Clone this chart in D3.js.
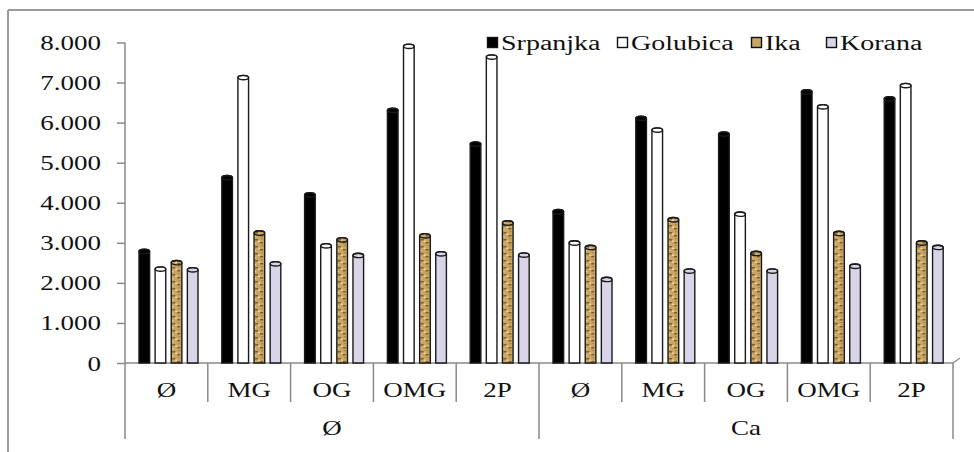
<!DOCTYPE html>
<html><head><meta charset="utf-8">
<script src="https://cdn.jsdelivr.net/npm/d3@7"></script>
<style>html,body{margin:0;padding:0;background:#fff;}svg{display:block;}text{font-family:'Liberation Serif','Times New Roman',serif;}</style>
</head><body>
<svg id="chart" width="974" height="452"></svg>
<script>
const treatments = ["Ø","MG","OG","OMG","2P","Ø","MG","OG","OMG","2P"];
const groups = ["Ø","Ca"];
const seriesNames = ["Srpanjka","Golubica","Ika","Korana"];
const srpanjka = [2840,4680,4250,6360,5520,3830,6160,5770,6820,6650];
const golubica = [2400,7180,2980,7960,7690,3050,5870,3770,6450,6980];
const ika      = [2560,3300,3130,3230,3550,2940,3630,2790,3290,3050];
const korana   = [2380,2530,2740,2780,2750,2140,2350,2350,2470,2940];
const tickValues = [0,1000,2000,3000,4000,5000,6000,7000,8000];
const tickLabels = ["0","1.000","2.000","3.000","4.000","5.000","6.000","7.000","8.000"];

const seriesValues = [srpanjka, golubica, ika, korana];
const svg = d3.select("#chart");
const defs = svg.append("defs");

// Ika grain texture
const pat = defs.append("pattern").attr("id","ikaTex").attr("patternUnits","userSpaceOnUse")
  .attr("width",10).attr("height",7);
pat.append("rect").attr("width",10).attr("height",7).attr("fill","#c9a663");
pat.append("rect").attr("x",1).attr("y",1).attr("width",3).attr("height",1.5).attr("fill","#7d5f2e");
pat.append("rect").attr("x",6).attr("y",4).attr("width",3).attr("height",1.5).attr("fill","#7d5f2e");
pat.append("rect").attr("x",4).attr("y",2.5).attr("width",2).attr("height",1.5).attr("fill","#ead6a2");
pat.append("rect").attr("x",0).attr("y",5).attr("width",2).attr("height",1.2).attr("fill","#ead6a2");
pat.append("rect").attr("x",7).attr("y",0).attr("width",2).attr("height",1.2).attr("fill","#a8864a");

const fills = ["#000000","#ffffff","url(#ikaTex)","#d9d4e8"];
const legendFills = ["#000000","#ffffff","#c9a663","#d9d4e8"];

const x0 = d3.scaleBand().domain(d3.range(treatments.length)).range([125, 953]).padding(0);
const x1 = d3.scaleBand().domain(seriesNames).range([14, 73]).paddingInner(0.34).paddingOuter(0);
const y = d3.scaleLinear().domain([0, 8000]).range([363, 42.5]);

const axisColor = "#8a8a8a";
const font = "'Liberation Serif','Times New Roman',serif";
const SX = 1.35;

// Outer frame
svg.append("line").attr("x1",8).attr("x2",974).attr("y1",10).attr("y2",10).attr("stroke","#9a9a9a").attr("stroke-width",2);
svg.append("line").attr("x1",8).attr("x2",8).attr("y1",10).attr("y2",452).attr("stroke","#9a9a9a").attr("stroke-width",2);

// Y axis
const yAxis = d3.axisLeft(y).tickValues(tickValues).tickSize(8).tickPadding(0)
  .tickFormat((d,i) => tickLabels[i]);
const gy = svg.append("g").attr("transform","translate(125,0)").call(yAxis);
gy.attr("font-family", font);
gy.select(".domain").attr("stroke",axisColor).attr("stroke-width",1.5).attr("d","M0,"+y(8000)+"V"+y(0));
gy.selectAll(".tick line").attr("stroke",axisColor).attr("stroke-width",1.5);
gy.selectAll(".tick text").remove();
gy.selectAll(".tick").append("text")
  .attr("transform", `translate(-24,0) scale(${SX},1)`)
  .attr("text-anchor","end").attr("dy","0.35em")
  .attr("font-family",font).attr("font-size",20).attr("fill","#111")
  .text((d,i) => tickLabels[i]);

// X axis baseline
svg.append("line").attr("x1",125).attr("x2",953).attr("y1",y(0)).attr("y2",y(0)).attr("stroke",axisColor).attr("stroke-width",1.5);
svg.append("line").attr("x1",953).attr("x2",960).attr("y1",y(0)).attr("y2",y(0)-5).attr("stroke",axisColor).attr("stroke-width",1.2);

// Separators
const bounds = d3.range(treatments.length + 1).map(i => i < treatments.length ? x0(i) : x0(treatments.length-1) + x0.bandwidth());
svg.append("g").selectAll("line").data(bounds).join("line")
  .attr("x1", d => d).attr("x2", d => d)
  .attr("y1", y(0))
  .attr("y2", (d,i) => (i === 0 || i === 5 || i === 10) ? 439 : 402)
  .attr("stroke",axisColor).attr("stroke-width",1.5);

// Category labels
svg.append("g").selectAll("text").data(treatments).join("text")
  .attr("transform",(d,i) => `translate(${x0(i)+x0.bandwidth()/2},390) scale(${SX},1)`)
  .attr("text-anchor","middle").attr("dy","0.35em")
  .attr("font-family",font).attr("font-size",20).attr("fill","#111")
  .text(d => d);
svg.append("g").selectAll("text").data(groups).join("text")
  .attr("transform",(d,i) => `translate(${(bounds[i*5]+bounds[i*5+5])/2},428) scale(${SX},1)`)
  .attr("text-anchor","middle").attr("dy","0.35em")
  .attr("font-family",font).attr("font-size",20).attr("fill","#111")
  .text(d => d);

// Bars (cylinder-like)
const barData = [];
seriesNames.forEach((s, si) => {
  seriesValues[si].forEach((v, gi) => barData.push({s, si, gi, v}));
});
const bw = x1.bandwidth();
const capH = 2.2;
const bars = svg.append("g").selectAll("g").data(barData).join("g")
  .attr("transform", d => `translate(${x0(d.gi) + x1(d.s)},0)`);
bars.append("path")
  .attr("d", d => `M0,${y(0)}V${y(d.v)+capH}A${bw/2},${capH} 0 0 1 ${bw},${y(d.v)+capH}V${y(0)}Z`)
  .attr("fill", d => fills[d.si])
  .attr("stroke", "#1a1a1a").attr("stroke-width", 1.4);
bars.append("ellipse")
  .attr("cx", bw/2).attr("cy", d => y(d.v)+capH)
  .attr("rx", bw/2).attr("ry", capH)
  .attr("fill", d => d.si === 0 ? "#000" : "none")
  .attr("stroke", "#1a1a1a").attr("stroke-width", 1.4);

// Legend
const legendX = [487, 617, 751, 826];
const lg = svg.append("g").selectAll("g").data(seriesNames).join("g")
  .attr("transform", (d,i) => `translate(${legendX[i]},37)`);
lg.append("rect").attr("x",0.5).attr("y",0.5).attr("width",10).attr("height",10)
  .attr("fill",(d,i) => legendFills[i]).attr("stroke","#111").attr("stroke-width",1.4);
lg.append("text")
  .attr("transform", `translate(14,5.5) scale(1.4,1)`)
  .attr("dy","0.35em")
  .attr("font-family",font).attr("font-size",20).attr("fill","#111")
  .text(d => d);
</script>
</body></html>
